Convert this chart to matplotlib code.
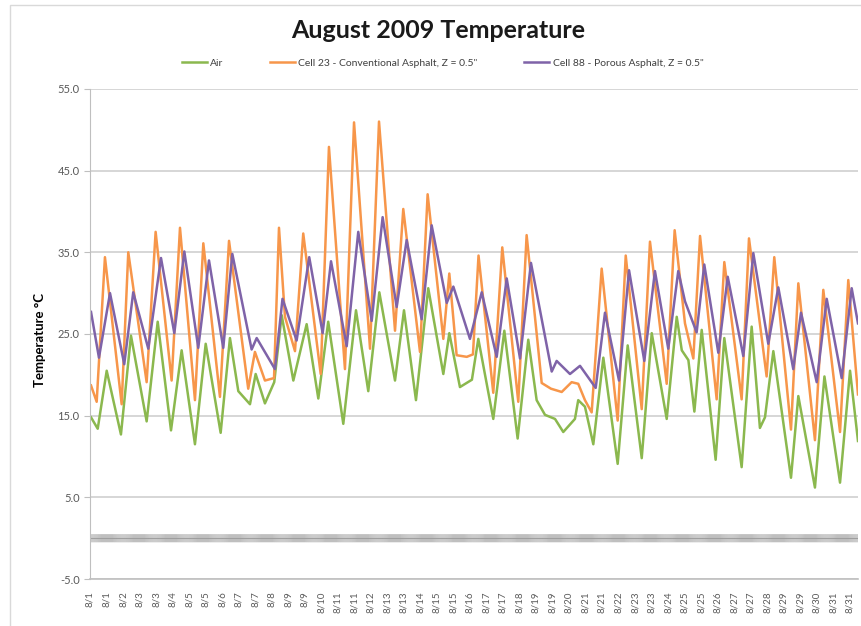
import matplotlib.pyplot as plt
from matplotlib.patches import Rectangle

# hours since 8/1 00:00 and temperature (deg C) at the turning points of each trace
air_hours = [1, 7.5, 16.2, 30, 39.7, 54.9, 65.6, 78.5, 88.8, 101.7, 112.1, 126.6, 135.6,
             143.7, 155, 160.5, 169.5, 178.5, 185.7, 197, 209.9, 221.2, 230.8, 245.4,
             257.7, 269.6, 280.3, 295.5, 304.2, 315.8, 327.7, 342.3, 348.1, 358.4, 370,
             376.2, 390.7, 401.4, 414.3, 424.6, 432.7, 440.8, 450.5, 458.5, 469.8, 473,
             479.5, 487.6, 497.3, 511.2, 520.9, 534.5, 544.2, 558.7, 568.4, 573.3, 579.7,
             585.5, 592.6, 606.1, 614.5, 631.3, 641, 649, 653.9, 662, 679.1, 686.2, 702.3,
             711.5, 726.6, 736.3, 744]
air_temp = [14.8, 13.4, 20.5, 12.7, 24.8, 14.3, 26.5, 13.2, 23.0, 11.5, 23.8, 12.9, 24.5,
            18.0, 16.4, 20.1, 16.5, 19.1, 27.3, 19.3, 26.2, 17.1, 26.5, 14.0,
            27.9, 18.0, 30.1, 19.3, 27.9, 16.9, 30.6, 20.1, 25.1, 18.5, 19.4,
            24.4, 14.6, 25.4, 12.2, 24.3, 16.9, 15.1, 14.6, 13.0, 14.6, 16.9,
            16.1, 11.5, 22.1, 9.1, 23.6, 9.8, 25.1, 14.6, 27.1, 23.0, 21.8,
            15.5, 25.5, 9.6, 24.5, 8.7, 25.9, 13.5, 14.8, 22.9, 7.4, 17.4, 6.2,
            19.8, 6.8, 20.5, 11.9]

cell23_hours = [1, 6.5, 14.5, 30.7, 37.1, 54.9, 63.6, 79.1, 87.2, 101.7, 109.8, 125.9, 134.7,
                153.3, 159.8, 169.5, 178.3, 183.1, 188.9, 198.6, 206.6, 223.5, 231.5, 247,
                255.8, 271.3, 280, 295.5, 303.5, 319.7, 327.1, 342.3, 348.1, 355.2, 365, 371,
                376.4, 390.7, 399.4, 414.9, 423, 437.6, 446.6, 457, 466.6, 473, 479.5, 486,
                495.7, 511.2, 519, 534.5, 542.5, 558.7, 566.4, 576.4, 584.5, 591, 607.1,
                614.5, 631.3, 638.4, 655.5, 662.9, 679.1, 686.2, 702.3, 710.4, 726.6,
                734.6, 744]
cell23_temp = [18.7, 16.7, 34.4, 16.4, 35.0, 19.1, 37.5, 19.3, 38.0, 16.9, 36.1, 17.3, 36.4,
               18.3, 22.8, 19.3, 19.6, 38.0, 27.1, 22.9, 37.3, 20.1, 47.9, 20.7,
               50.9, 23.2, 51.0, 25.4, 40.3, 22.8, 42.1, 24.4, 32.4, 22.4, 22.2, 22.5,
               34.6, 17.8, 35.6, 16.7, 37.1, 19.0, 18.3, 17.9, 19.1, 18.9, 16.9, 15.4,
               33.0, 14.4, 34.6, 15.8, 36.3, 18.9, 37.7, 26.3, 22.0, 37.0, 17.0,
               33.8, 17.0, 36.7, 19.8, 34.4, 13.3, 31.2, 12.0, 30.4, 13.0,
               31.6, 17.6]

cell88_hours = [1, 8.7, 19.4, 33.2, 41.9, 56.5, 68.8, 81.7, 91.4, 104.9, 115.3, 129.1, 137.9,
                156.6, 161.5, 179.2, 186.5, 200.2, 212.4, 225.4, 233.5, 248.7, 259.9, 272.9,
                283.5, 297.1, 306.8, 321.3, 331, 345.6, 352, 368.1, 379.5, 394, 403.7, 416.6,
                427.2, 447.3, 452.1, 465, 474.7, 489.9, 498.9, 512.5, 522.2, 537, 547.3,
                560.2, 569.9, 576.4, 587.7, 595.1, 608.7, 617.8, 632.9, 642.6, 657.1, 666.8,
                681.3, 688.8, 704, 713.7, 728.2, 737.9, 744]
cell88_temp = [27.7, 22.1, 30.0, 21.3, 30.1, 23.2, 34.3, 25.1, 35.1, 23.3, 34.0, 23.3, 34.8,
               23.1, 24.5, 20.7, 29.3, 24.2, 34.4, 25.1, 33.9, 23.5, 37.5, 26.6,
               39.3, 28.3, 36.5, 26.8, 38.3, 28.8, 30.8, 24.4, 30.1, 22.2, 31.8, 22.0,
               33.7, 20.4, 21.7, 20.1, 21.1, 18.4, 27.6, 19.3, 32.8, 21.7, 32.7,
               23.2, 32.7, 29.0, 25.2, 33.5, 22.7, 32.0, 22.3, 34.9, 23.8, 30.7,
               20.7, 27.6, 19.1, 29.3, 19.6, 30.6, 26.3]

tick_hours = list(range(0, 737, 16))
tick_labels = ["8/1", "8/1", "8/2", "8/3", "8/3", "8/4", "8/5", "8/5", "8/6", "8/7",
               "8/7", "8/8", "8/9", "8/9", "8/10", "8/11", "8/11", "8/12", "8/13", "8/13",
               "8/14", "8/15", "8/15", "8/16", "8/17", "8/17", "8/18", "8/19", "8/19",
               "8/20", "8/21", "8/21", "8/22", "8/23", "8/23", "8/24", "8/25", "8/25",
               "8/26", "8/27", "8/27", "8/28", "8/29", "8/29", "8/30", "8/31", "8/31"]

green = "#8BB84E"
orange = "#F7964A"
purple = "#7F63A8"
grey = "#BFBFBF"

plt.rcParams["font.family"] = ["Lato", "DejaVu Sans"]

fig = plt.figure(figsize=(8.61, 6.26), dpi=100)
fig.patches.append(Rectangle((10 / 861, -0.01), 1.0, 1 - 5 / 626 + 0.01,
                             transform=fig.transFigure, fill=False,
                             edgecolor="#D9D9D9", lw=1.0))

ax = fig.add_axes([0.1045, 0.075, 0.892, 0.783])
ax.set_xlim(0, 744)
ax.set_ylim(-5, 55)

ax.set_yticks(range(-5, 56, 10))
ax.set_yticklabels([f"{v:.1f}" for v in range(-5, 56, 10)])
ax.grid(axis="y", color="#CFCFCF", lw=1.2)
ax.set_axisbelow(True)

ax.set_xticks(tick_hours)
ax.set_xticklabels(tick_labels, rotation=90)
ax.tick_params(axis="x", length=0, pad=9, labelsize=7, labelcolor="#595959")
ax.tick_params(axis="y", length=4, color=grey, labelsize=8, labelcolor="#595959")

for side in ["top", "right"]:
    ax.spines[side].set_visible(False)
ax.spines["left"].set_color(grey)
ax.spines["bottom"].set_color(grey)
ax.spines["bottom"].set_linewidth(1.2)

# category axis crossing at zero, with a mark for every hour
ax.axhline(0, color="#A6A6A6", lw=0.8, zorder=1)
ax.vlines(range(0, 745), -0.5, 0.5, color="#9A9A9A", lw=0.45, zorder=1, snap=False)

ax.plot(air_hours, air_temp, color=green, lw=1.8, label="Air")
ax.plot(cell23_hours, cell23_temp, color=orange, lw=1.8,
        label="Cell 23 - Conventional Asphalt, Z = 0.5\"")
ax.plot(cell88_hours, cell88_temp, color=purple, lw=1.8,
        label="Cell 88 - Porous Asphalt, Z = 0.5\"")

fig.text(0.509, 0.952, "August 2009 Temperature", ha="center", va="center",
         fontsize=18, weight="bold", color="#1A1A1A")
fig.text(0.047, 0.457, "Temperature \u00b0C", ha="center", va="center",
         rotation=90, fontsize=9.5, weight="bold")

fig.legend(loc="center", bbox_to_anchor=(0.514, 0.899), ncol=3, frameon=False,
           fontsize=7.5, handlelength=2.4, columnspacing=4.5, handletextpad=0.3,
           labelcolor="#404040")

fig.savefig("out.png", dpi=100)
